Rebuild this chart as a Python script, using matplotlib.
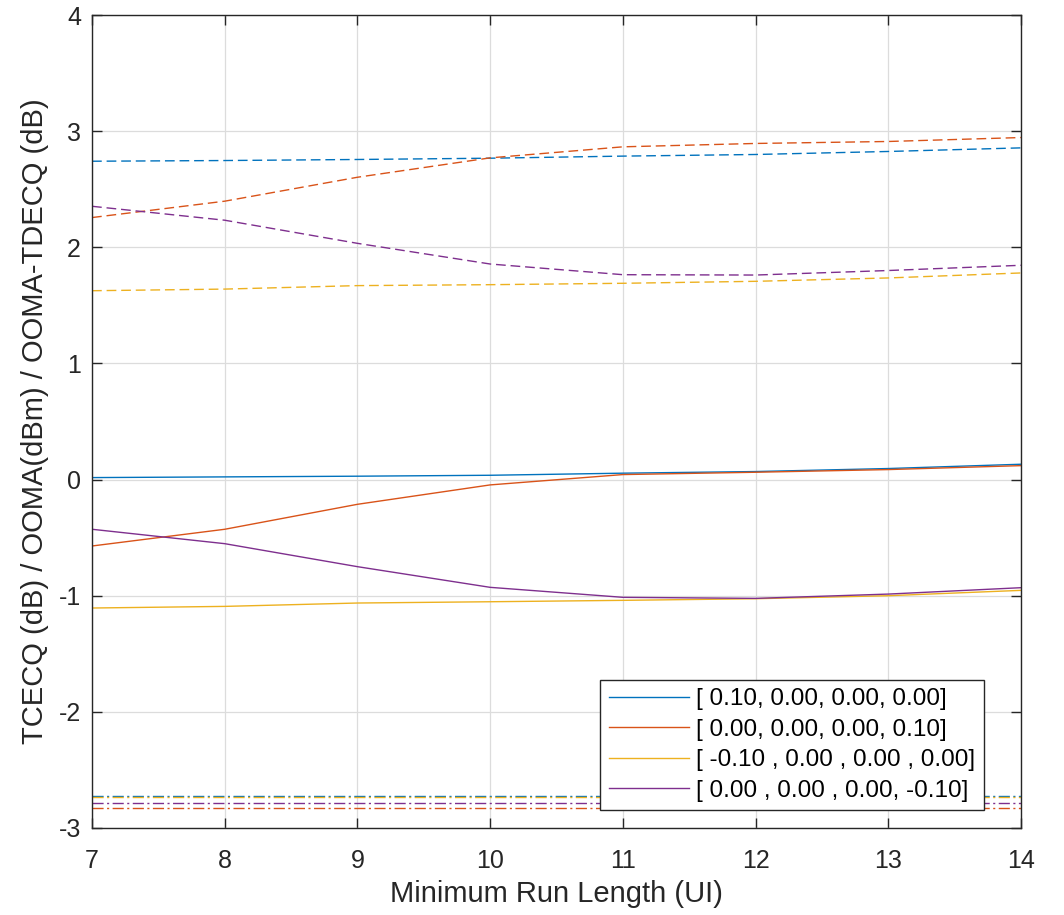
import matplotlib
matplotlib.use("Agg")
import matplotlib.pyplot as plt

plt.rcParams['font.family'] = ['Liberation Sans', 'DejaVu Sans']
plt.rcParams['axes.unicode_minus'] = False

# run length (UI)
run_length = [7, 8, 9, 10, 11, 12, 13, 14]

labels = ["[ 0.10, 0.00, 0.00, 0.00]",
          "[ 0.00, 0.00, 0.00, 0.10]",
          "[ -0.10 , 0.00 , 0.00 , 0.00]",
          "[ 0.00 , 0.00 , 0.00, -0.10]"]

# dashed curves (upper group)
dash_blue = [2.741, 2.747, 2.756, 2.767, 2.785, 2.799, 2.825, 2.856]
dash_orange = [2.256, 2.397, 2.603, 2.770, 2.865, 2.894, 2.911, 2.945]
dash_yellow = [1.626, 1.640, 1.670, 1.678, 1.690, 1.707, 1.736, 1.779]
dash_purple = [2.353, 2.233, 2.034, 1.856, 1.764, 1.761, 1.800, 1.845]

# solid curves (middle group)
solid_blue = [0.017, 0.023, 0.029, 0.037, 0.055, 0.069, 0.095, 0.132]
solid_orange = [-0.572, -0.428, -0.213, -0.046, 0.043, 0.063, 0.086, 0.120]
solid_yellow = [-1.106, -1.092, -1.063, -1.052, -1.040, -1.026, -1.000, -0.954]
solid_purple = [-0.428, -0.552, -0.750, -0.928, -1.014, -1.023, -0.986, -0.931]

# dash-dot constant levels (bottom)
flat_levels = [-2.723, -2.827, -2.735, -2.787]

colors = ["#0072BD", "#D95319", "#EDB120", "#7E2F8E"]

fig = plt.figure(figsize=(10.64, 9.15), dpi=100)
ax = fig.add_axes([0.0865, 0.0951, 0.8731, 0.8885])

solids = [solid_blue, solid_orange, solid_yellow, solid_purple]
dashes = [dash_blue, dash_orange, dash_yellow, dash_purple]

handles = []
for i in range(4):
    h, = ax.plot(run_length, solids[i], color=colors[i], lw=1.0, label=labels[i])
    handles.append(h)
    ax.plot(run_length, dashes[i], color=colors[i], lw=1.0, dashes=(7, 3.5))
    ax.axhline(flat_levels[i], color=colors[i], lw=1.0, dashes=(8, 2.5, 1.5, 2.5))

ax.set_xlim(7, 14)
ax.set_ylim(-3, 4)
ax.set_xticks(range(7, 15))
ax.set_yticks(range(-3, 5))
ax.grid(True, color="#dcdcdc", lw=0.9)
ax.set_axisbelow(True)
ax.tick_params(direction="in", length=7, width=1, labelsize=18, colors="#262626",
               top=True, right=True)
ax.tick_params(axis="x", pad=15)
ax.tick_params(axis="y", pad=8)
for s in ax.spines.values():
    s.set_color("#262626")
    s.set_linewidth(1.0)

ax.set_xlabel("Minimum Run Length (UI)", fontsize=21, color="#262626", labelpad=5)
ax.set_ylabel("TCECQ (dB) / OOMA(dBm) / OOMA-TDECQ (dB)", fontsize=21,
              color="#262626", labelpad=7)

leg = ax.legend(handles=handles, loc="upper left", bbox_to_anchor=(0.564, 0.257),
                bbox_transform=fig.transFigure,
                fontsize=17.5, frameon=True, fancybox=False, framealpha=1.0,
                handlelength=3.3, borderpad=0.35, labelspacing=0.35,
                handletextpad=0.3, borderaxespad=0)
leg.get_frame().set_edgecolor("#262626")
leg.get_frame().set_linewidth(1.0)

fig.savefig("out.png", dpi=100)
